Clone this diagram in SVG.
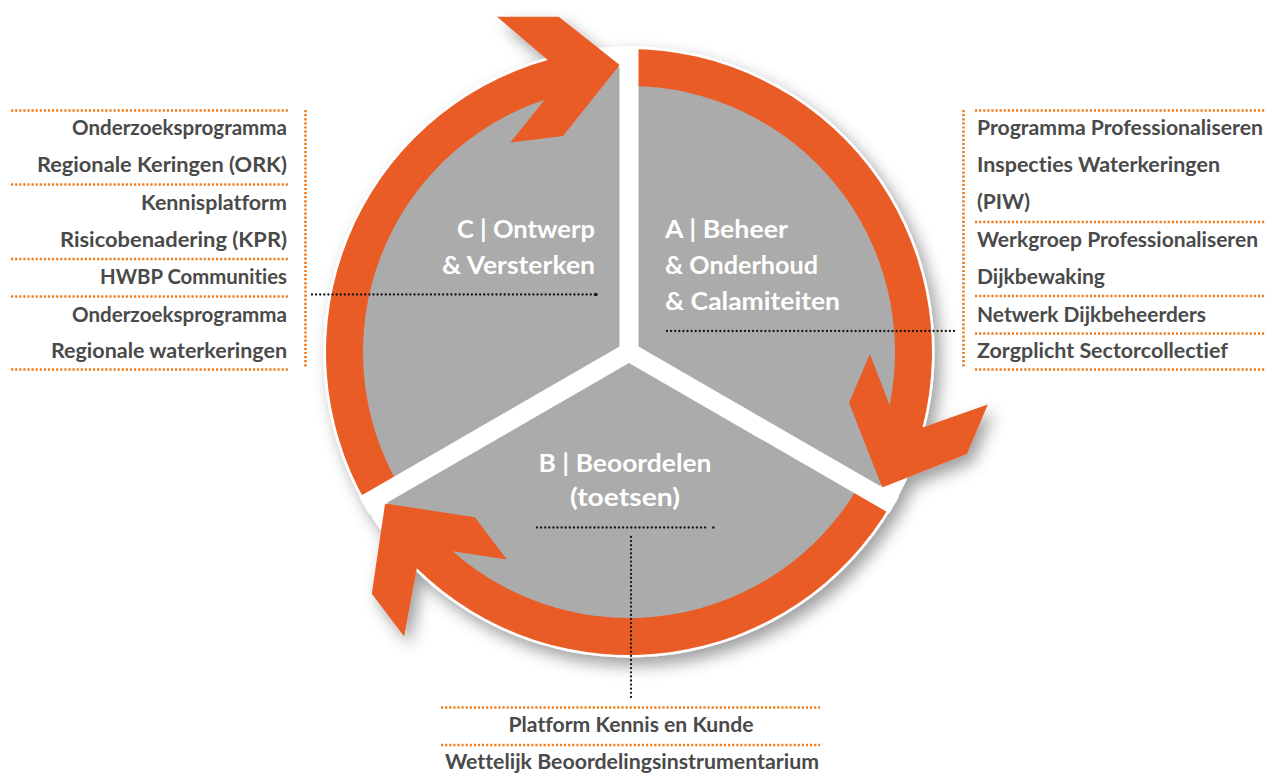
<svg xmlns="http://www.w3.org/2000/svg" xmlns:xlink="http://www.w3.org/1999/xlink" width="1266" height="778" viewBox="0 0 1266 778">
<style>
.arm{fill:#EA5B25}
.gap{stroke:#FFFFFF;stroke-width:19;stroke-linecap:butt}
.lbl{font-family:Lato,"Open Sans","Liberation Sans",sans-serif;font-weight:700;font-size:24px;fill:#FFFFFF;font-variant-ligatures:none}
.lst{font-family:Lato,"Open Sans","Liberation Sans",sans-serif;font-weight:700;font-size:20.5px;fill:#4A4A4A;font-variant-ligatures:none}
.odot{fill:none;stroke:#EF7D1F;stroke-width:2.6;stroke-dasharray:2.2 1.9}
.kdot{fill:none;stroke:#151515;stroke-width:2.3;stroke-dasharray:0 4.1;stroke-linecap:round}
</style>
<defs>
<filter id="sh" x="-20%" y="-20%" width="140%" height="140%">
<feDropShadow dx="6" dy="8" stdDeviation="8" flood-color="#000000" flood-opacity="0.38"/>
</filter>
<clipPath id="clipTop" clipPathUnits="userSpaceOnUse"><rect x="0" y="16.7" width="1266" height="800"/></clipPath>
<path id="arm" d="M366.6,503.5 A303,303 0 0 1 547.7,60.1 L495,15 L548.3,8.4 L619.7,65 L563,136 L510.3,142.4 L544.7,99.7 A266,266 0 0 0 398.6,485 Z"/>
</defs>
<rect width="1266" height="778" fill="#FFFFFF"/>
<g id="wheel" filter="url(#sh)">
<circle cx="629" cy="352" r="305.5" fill="#FFFFFF"/>
<circle cx="629" cy="352" r="285" fill="#AAABAA"/>
<g id="sector-C"><use xlink:href="#arm" href="#arm" class="arm" clip-path="url(#clipTop)"/></g>
<g id="sector-A"><use xlink:href="#arm" href="#arm" class="arm" transform="rotate(120 629 352)"/></g>
<g id="sector-B"><use xlink:href="#arm" href="#arm" class="arm" transform="rotate(240 629 352)"/></g>
<line class="gap" x1="629" y1="352" x2="629" y2="46"/>
<line class="gap" x1="629" y1="352" x2="894" y2="505"/>
<line class="gap" x1="629" y1="352" x2="364" y2="505"/>
</g>
<g id="label-C" class="lbl" text-anchor="end">
<text x="595" y="238" textLength="138" lengthAdjust="spacingAndGlyphs">C | Ontwerp</text>
<text x="595" y="274" textLength="153" lengthAdjust="spacingAndGlyphs">&amp; Versterken</text>
</g>
<g id="label-A" class="lbl">
<text x="665" y="238" textLength="123" lengthAdjust="spacingAndGlyphs">A | Beheer</text>
<text x="665" y="274" textLength="153" lengthAdjust="spacingAndGlyphs">&amp; Onderhoud</text>
<text x="665" y="310" textLength="175" lengthAdjust="spacingAndGlyphs">&amp; Calamiteiten</text>
</g>
<g id="label-B" class="lbl" text-anchor="middle">
<text x="625" y="472" textLength="173" lengthAdjust="spacingAndGlyphs">B | Beoordelen</text>
<text x="625" y="506" textLength="110" lengthAdjust="spacingAndGlyphs">(toetsen)</text>
</g>
<g id="connectors">
<line class="kdot" x1="312" y1="294.5" x2="595" y2="294.5"/>
<circle cx="596" cy="294.5" r="1.7" fill="#151515"/>
<line class="kdot" x1="667" y1="331" x2="955" y2="331"/>
<line class="kdot" x1="537" y1="527.5" x2="706" y2="527.5"/>
<circle cx="713.3" cy="527.5" r="1.2" fill="#151515"/>
<line class="kdot" x1="631" y1="537" x2="631" y2="697"/>
</g>
<g id="box-C">
<line class="odot" x1="11" y1="110.5" x2="288" y2="110.5"/>
<line class="odot" x1="11" y1="184.5" x2="288" y2="184.5"/>
<line class="odot" x1="11" y1="259" x2="288" y2="259"/>
<line class="odot" x1="11" y1="296.5" x2="288" y2="296.5"/>
<line class="odot" x1="11" y1="369.5" x2="288" y2="369.5"/>
<line class="odot" x1="305.5" y1="110" x2="305.5" y2="367"/>
<g class="lst" text-anchor="end">
<text x="287" y="135" textLength="215" lengthAdjust="spacingAndGlyphs">Onderzoeksprogramma</text>
<text x="287" y="171.5" textLength="250" lengthAdjust="spacingAndGlyphs">Regionale Keringen (ORK)</text>
<text x="287" y="210" textLength="146" lengthAdjust="spacingAndGlyphs">Kennisplatform</text>
<text x="287" y="246.5" textLength="227" lengthAdjust="spacingAndGlyphs">Risicobenadering (KPR)</text>
<text x="287" y="284" textLength="187" lengthAdjust="spacingAndGlyphs">HWBP Communities</text>
<text x="287" y="321.5" textLength="215" lengthAdjust="spacingAndGlyphs">Onderzoeksprogramma</text>
<text x="287" y="358" textLength="236" lengthAdjust="spacingAndGlyphs">Regionale waterkeringen</text>
</g>
</g>
<g id="box-A">
<line class="odot" x1="963.5" y1="110" x2="963.5" y2="368"/>
<line class="odot" x1="975" y1="110.5" x2="1266" y2="110.5"/>
<line class="odot" x1="975" y1="222" x2="1266" y2="222"/>
<line class="odot" x1="975" y1="296" x2="1266" y2="296"/>
<line class="odot" x1="975" y1="333.5" x2="1266" y2="333.5"/>
<line class="odot" x1="975" y1="369.5" x2="1266" y2="369.5"/>
<g class="lst">
<text x="977" y="135" textLength="286" lengthAdjust="spacingAndGlyphs">Programma Professionaliseren</text>
<text x="977" y="171.5" textLength="243" lengthAdjust="spacingAndGlyphs">Inspecties Waterkeringen</text>
<text x="977" y="209" textLength="53" lengthAdjust="spacingAndGlyphs">(PIW)</text>
<text x="977" y="246.5" textLength="281" lengthAdjust="spacingAndGlyphs">Werkgroep Professionaliseren</text>
<text x="977" y="284" textLength="128" lengthAdjust="spacingAndGlyphs">Dijkbewaking</text>
<text x="977" y="321.5" textLength="229" lengthAdjust="spacingAndGlyphs">Netwerk Dijkbeheerders</text>
<text x="977" y="358" textLength="251" lengthAdjust="spacingAndGlyphs">Zorgplicht Sectorcollectief</text>
</g>
</g>
<g id="box-B">
<line class="odot" x1="441" y1="707.5" x2="820" y2="707.5"/>
<line class="odot" x1="441" y1="745" x2="820" y2="745"/>
<g class="lst" text-anchor="middle">
<text x="631" y="731.5" textLength="245" lengthAdjust="spacingAndGlyphs">Platform Kennis en Kunde</text>
<text x="632" y="769" textLength="374" lengthAdjust="spacingAndGlyphs">Wettelijk Beoordelingsinstrumentarium</text>
</g>
</g>
</svg>
